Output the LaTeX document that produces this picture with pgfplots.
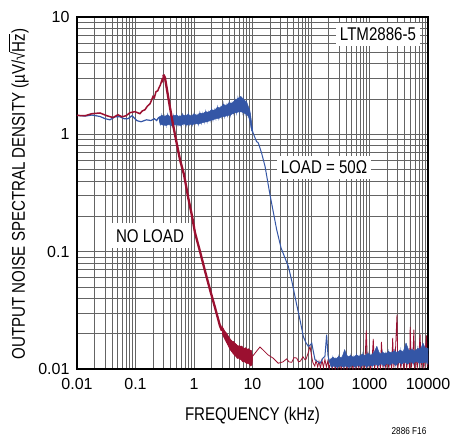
\documentclass[border=0pt]{standalone}
\usepackage{pgfplots}
\pgfplotsset{compat=1.18}
\usepackage{fontspec}
\setmainfont{Liberation Sans}[FakeStretch=0.82]
\newfontfamily\tickfont{Liberation Sans}
\definecolor{nlred}{RGB}{155,16,48}
\definecolor{ldblue}{RGB}{52,86,166}
\definecolor{gridc}{RGB}{100,100,100}
\newcommand\lblfont{\fontsize{18.4bp}{20bp}\selectfont}
\newcommand\ovl[1]{\setbox0\hbox{#1}\rlap{\rule[0.80em]{\wd0}{0.07em}}\box0}
\begin{document}
\begin{tikzpicture}
\useasboundingbox (-77bp,-66bp) rectangle (378bp,369bp);
\begin{axis}[
 at={(0,0)}, anchor=south west, scale only axis, width=351bp, height=352bp,
 xmode=log, ymode=log, xmin=0.01, xmax=10000, ymin=0.01, ymax=10,
 xtick={0.01,0.1,1,10,100,1000,10000},
 xticklabels={0.01,0.1,1,10,100,1000,10000},
 ytick={0.01,0.1,1,10},
 yticklabels={0.01,0.1,1,10},
 minor xtick={0.02,0.03,0.04,0.05,0.06,0.07,0.08,0.09,0.2,0.3,0.4,0.5,0.6,0.7,0.8,0.9,2,3,4,5,6,7,8,9,20,30,40,50,60,70,80,90,200,300,400,500,600,700,800,900,2000,3000,4000,5000,6000,7000,8000,9000},
 minor ytick={0.02,0.03,0.04,0.05,0.06,0.07,0.08,0.09,0.2,0.3,0.4,0.5,0.6,0.7,0.8,0.9,2,3,4,5,6,7,8,9},
 grid=both,
 major grid style={gridc, line width=0.8bp},
 minor grid style={gridc, line width=0.8bp},
 major tick length=0pt, minor tick length=0pt,
 axis line style={black, line width=1.2bp},
 tick label style={font=\tickfont\fontsize{16bp}{18bp}\selectfont},
 /pgf/number format/assume math mode=true,
 xticklabel style={yshift=-6bp},
 yticklabel style={xshift=-4bp},
]
% red high-frequency noise (under blue)
\addplot[nlred, line width=0.8bp] coordinates {
(10.0,0.0128)(11.5,0.0140)(13.4,0.0154)(15.7,0.0143)(18.4,0.0132)(22.4,0.0124)(27.6,0.0112)(33.2,0.0115)(38.4,0.0122)(42.1,0.0115)(46.8,0.0114)(51.2,0.0125)(57.0,0.0124)(61.1,0.0115)(66,0.0117)(73,0.0127)(78.9,0.0120)(82.3,0.0121)(90.6,0.0140)(96.2,0.0156)(102,0.0130)(108,0.0113)
(116,0.0106)(122,0.0118)(130,0.0104)(137,0.0116)(145,0.0102)(154,0.0119)(163,0.0103)(173,0.0121)(183,0.0104)(194,0.0117)(205,0.0101)(218,0.0118)(231,0.0102)(245,0.0120)(259,0.0100)(275,0.0117)(291,0.0102)(309,0.0121)(327,0.0100)(347,0.0118)(367,0.0101)(389,0.0122)(413,0.0100)(437,0.0119)(464,0.0102)(491,0.0123)(521,0.0100)(552,0.0120)(585,0.0101)(620,0.0124)(657,0.0102)(697,0.0121)(738,0.0100)(783,0.0125)(830,0.0101)(880,0.0213)(933,0.0102)(988,0.0124)(1048,0.0100)(1110,0.0122)(1160,0.0181)(1220,0.0101)(1290,0.0125)(1370,0.0102)(1450,0.0123)(1540,0.0100)(1600,0.0170)(1700,0.0102)(1800,0.0126)(1900,0.0101)(2020,0.0124)(2140,0.0102)(2270,0.0127)(2400,0.0100)(2490,0.0184)(2600,0.0103)(2750,0.0126)(2950,0.0291)(3050,0.0101)(3240,0.0128)(3430,0.0102)(3640,0.0127)(3860,0.0100)(4090,0.0130)(4330,0.0102)(4590,0.0128)(4850,0.0101)(4960,0.0228)(5200,0.0103)(5500,0.0129)(5740,0.0216)(5900,0.0101)(6200,0.0131)(6550,0.0102)(6950,0.0130)(7340,0.0197)(7600,0.0102)(8000,0.0132)(8500,0.0101)(8900,0.0131)(9400,0.0193)(9700,0.0104)(10000,0.0135)
};
% blue low frequency
\addplot[ldblue, line width=1.2bp] coordinates {
(0.01,1.45)(0.0137,1.43)(0.018,1.46)(0.0247,1.42)(0.0301,1.36)(0.0366,1.33)(0.0447,1.41)(0.0543,1.41)(0.0636,1.36)(0.0745,1.36)(0.0871,1.44)(0.105,1.31)(0.124,1.28)(0.155,1.33)(0.184,1.31)(0.21,1.36)(0.23,1.31)(0.25,1.40)
};
% blue noisy band 0.25-10 kHz (envelope)
\addplot[ldblue, fill=ldblue, line width=0.5bp] coordinates {
(0.25,1.40)(0.281,1.45)(0.316,1.42)(0.355,1.47)(0.398,1.40)(0.447,1.44)(0.502,1.46)(0.564,1.41)(0.633,1.47)(0.710,1.44)(0.797,1.48)(0.894,1.43)(1.0,1.49)(1.122,1.45)(1.259,1.52)(1.413,1.50)(1.585,1.56)(1.778,1.54)(1.995,1.62)(2.239,1.60)(2.512,1.70)(2.818,1.68)(3.162,1.80)(3.548,1.76)(3.981,1.86)(4.467,1.84)(5.012,1.95)(5.623,2.02)(6.31,2.10)(7.079,1.98)(7.943,1.88)(8.913,1.62)(9.3,1.45)(10.2,1.03)
(9.6,1.08)(9.0,1.30)(8.414,1.44)(7.499,1.50)(6.683,1.55)(5.957,1.56)(5.309,1.53)(4.732,1.52)(4.217,1.46)(3.758,1.45)(3.35,1.42)(2.985,1.41)(2.661,1.37)(2.371,1.36)(2.113,1.33)(1.884,1.31)(1.679,1.28)(1.496,1.27)(1.334,1.25)(1.189,1.22)(1.06,1.24)(0.947,1.21)(0.844,1.22)(0.752,1.20)(0.670,1.23)(0.597,1.19)(0.532,1.20)(0.474,1.21)(0.422,1.18)(0.376,1.22)(0.335,1.19)(0.298,1.20)(0.265,1.22)
} -- cycle;
% blue noisy band 0.25-10 kHz (texture)
\addplot[ldblue, line width=0.7bp] coordinates {
(0.25,1.40)(0.265,1.22)(0.281,1.45)(0.298,1.20)(0.316,1.42)(0.335,1.19)(0.355,1.47)(0.376,1.22)(0.398,1.40)(0.422,1.18)(0.447,1.44)(0.474,1.21)(0.502,1.46)(0.532,1.20)(0.564,1.41)(0.597,1.19)(0.633,1.47)(0.670,1.23)(0.710,1.44)(0.752,1.20)(0.797,1.48)(0.844,1.22)(0.894,1.43)(0.947,1.21)(1.0,1.49)(1.06,1.24)(1.122,1.45)(1.189,1.22)(1.259,1.52)(1.334,1.25)(1.413,1.50)(1.496,1.27)(1.585,1.56)(1.679,1.28)(1.778,1.54)(1.884,1.31)(1.995,1.62)(2.113,1.33)(2.239,1.60)(2.371,1.36)(2.512,1.70)(2.661,1.37)(2.818,1.68)(2.985,1.41)(3.162,1.80)(3.35,1.42)(3.548,1.76)(3.758,1.45)(3.981,1.86)(4.217,1.46)(4.467,1.84)(4.732,1.52)(5.012,1.95)(5.309,1.53)(5.623,2.02)(5.957,1.56)(6.31,2.10)(6.683,1.55)(7.079,1.98)(7.499,1.50)(7.943,1.88)(8.414,1.44)(8.913,1.62)(9.44,1.25)(10.2,1.03)
};
% blue roll-off
\addplot[ldblue, line width=1.0bp] coordinates {
(10.2,1.03)(11.7,0.870)(12.6,0.843)(14.3,0.693)(16.4,0.532)(19.9,0.306)(25.9,0.154)(30.7,0.108)(36.0,0.0881)(41.0,0.0748)(47.3,0.0553)(57.0,0.0352)(64.9,0.0262)(73.9,0.0189)(82.2,0.0167)(90.0,0.0156)(96.2,0.0160)(103,0.0166)(110,0.0140)(117,0.0120)(132,0.0115)(143,0.0112)(160,0.0124)(173,0.0128)(185,0.0196)(195,0.0131)(206,0.0115)
};
% blue HF band (envelope)
\addplot[ldblue, fill=ldblue, line width=0.4bp] coordinates {
(206,0.0115)(210,0.0120)(236,0.0126)(265,0.0122)(298,0.0128)(335,0.0124)(376,0.0146)(422,0.0127)(474,0.0130)(532,0.0126)(597,0.0132)(670,0.0128)(752,0.0134)(844,0.0130)(947,0.0136)(1060,0.0131)(1189,0.0138)(1334,0.0156)(1496,0.0134)(1679,0.0139)(1884,0.0135)(2113,0.0141)(2371,0.0137)(2661,0.0143)(2985,0.0138)(3350,0.0145)(3758,0.0140)(4217,0.0166)(4732,0.0143)(5309,0.0147)(5957,0.0142)(6683,0.0150)(7499,0.0148)(8200,0.0166)(8913,0.0152)(10000,0.0150)
(10000,0.0110)(9441,0.0115)(8414,0.0113)(7943,0.0113)(7079,0.0112)(6310,0.0117)(5623,0.0111)(5012,0.0116)(4467,0.0110)(3981,0.0115)(3548,0.0110)(3162,0.0114)(2818,0.0107)(2512,0.0113)(2239,0.0108)(1995,0.0112)(1778,0.0106)(1585,0.0111)(1413,0.0107)(1259,0.0110)(1122,0.0106)(1000,0.0108)(894,0.0104)(797,0.0109)(710,0.0105)(633,0.0107)(564,0.0104)(502,0.0108)(447,0.0103)(398,0.0106)(355,0.0104)(316,0.0107)(281,0.0103)(250,0.0106)(222,0.0104)
} -- cycle;
% blue HF band (texture)
\addplot[ldblue, line width=0.6bp] coordinates {
(206,0.0115)(210,0.0120)(222,0.0104)(236,0.0126)(250,0.0106)(265,0.0122)(281,0.0103)(298,0.0128)(316,0.0107)(335,0.0124)(355,0.0104)(376,0.0146)(398,0.0106)(422,0.0127)(447,0.0103)(474,0.0130)(502,0.0108)(532,0.0126)(564,0.0104)(597,0.0132)(633,0.0107)(670,0.0128)(710,0.0105)(752,0.0134)(797,0.0109)(844,0.0130)(894,0.0104)(947,0.0136)(1000,0.0108)(1060,0.0131)(1122,0.0106)(1189,0.0138)(1259,0.0110)(1334,0.0156)(1413,0.0107)(1496,0.0134)(1585,0.0111)(1679,0.0139)(1778,0.0106)(1884,0.0135)(1995,0.0112)(2113,0.0141)(2239,0.0108)(2371,0.0137)(2512,0.0113)(2661,0.0143)(2818,0.0107)(2985,0.0138)(3162,0.0114)(3350,0.0145)(3548,0.0110)(3758,0.0140)(3981,0.0115)(4217,0.0166)(4467,0.0110)(4732,0.0143)(5012,0.0116)(5309,0.0147)(5623,0.0111)(5957,0.0142)(6310,0.0117)(6683,0.0150)(7079,0.0112)(7499,0.0148)(7943,0.0113)(8200,0.0166)(8414,0.0113)(8913,0.0152)(9441,0.0115)(10000,0.0150)
};
% red low frequency and peak
\addplot[nlred, line width=1.5bp] coordinates {
(0.01,1.45)(0.0137,1.44)(0.018,1.50)(0.0247,1.52)(0.0326,1.44)(0.0412,1.39)(0.0502,1.47)(0.0588,1.41)(0.0688,1.44)(0.0805,1.53)(0.098,1.56)(0.119,1.50)(0.13,1.58)(0.145,1.62)(0.16,1.74)(0.177,1.82)(0.19,1.98)(0.199,2.10)(0.21,2.05)(0.224,2.31)(0.24,2.35)(0.252,2.49)(0.265,2.62)(0.284,2.92)(0.292,2.85)(0.301,3.22)
};
% red fall
\addplot[nlred, line width=2.3bp] coordinates {
(0.301,3.22)(0.319,3.04)(0.345,2.40)(0.389,1.69)(0.438,1.21)(0.512,0.815)(0.576,0.607)(0.675,0.453)(0.80,0.285)(0.924,0.202)(1.04,0.145)(1.27,0.0998)(1.54,0.0687)(1.88,0.0473)(2.29,0.0333)(2.78,0.0233)(3.0,0.0212)
};
% red noisy band 3-10 kHz (envelope)
\addplot[nlred, fill=nlred, line width=0.5bp] coordinates {
(3.0,0.0232)(3.16,0.0222)(3.33,0.0212)(3.51,0.0205)(3.7,0.0197)(3.9,0.0190)(4.1,0.0182)(4.32,0.0176)(4.55,0.0172)(4.8,0.0172)(5.06,0.0165)(5.33,0.0162)(5.62,0.0156)(5.92,0.0158)(6.24,0.0156)(6.58,0.0157)(6.94,0.0151)(7.31,0.0150)(7.7,0.0152)(8.12,0.0147)(8.56,0.0149)(9.02,0.0145)(9.51,0.0144)(10.0,0.0128)
(9.76,0.0108)(9.26,0.0106)(8.79,0.0110)(8.34,0.0112)(7.91,0.0111)(7.5,0.0114)(7.12,0.0116)(6.76,0.0115)(6.41,0.0120)(6.08,0.0121)(5.77,0.0124)(5.48,0.0123)(5.2,0.0128)(4.93,0.0131)(4.67,0.0135)(4.43,0.0140)(4.2,0.0145)(4.0,0.0152)(3.8,0.0160)(3.6,0.0168)(3.42,0.0176)(3.25,0.0186)(3.08,0.0196)
} -- cycle;
% red noisy band 3-10 kHz (texture)
\addplot[nlred, line width=0.7bp] coordinates {
(3.0,0.0232)(3.08,0.0196)(3.16,0.0222)(3.25,0.0186)(3.33,0.0212)(3.42,0.0176)(3.51,0.0205)(3.6,0.0168)(3.7,0.0197)(3.8,0.0160)(3.9,0.0190)(4.0,0.0152)(4.1,0.0182)(4.2,0.0145)(4.32,0.0176)(4.43,0.0140)(4.55,0.0172)(4.67,0.0135)(4.8,0.0168)(4.93,0.0131)(5.06,0.0165)(5.2,0.0128)(5.33,0.0162)(5.48,0.0126)(5.62,0.0160)(5.77,0.0124)(5.92,0.0158)(6.08,0.0121)(6.24,0.0156)(6.41,0.0120)(6.58,0.0153)(6.76,0.0118)(6.94,0.0151)(7.12,0.0116)(7.31,0.0150)(7.5,0.0114)(7.7,0.0148)(7.91,0.0113)(8.12,0.0147)(8.34,0.0112)(8.56,0.0146)(8.79,0.0110)(9.02,0.0145)(9.26,0.0109)(9.51,0.0144)(9.76,0.0108)(10.0,0.0128)
};
\end{axis}
\node[fill=white, inner xsep=4bp, inner ysep=5bp, anchor=base, font=\lblfont] at (301bp,328.3bp) {LTM2886-5};
\node[fill=white, inner xsep=4bp, inner ysep=5bp, anchor=base, font=\lblfont] at (247bp,195bp) {LOAD = 50Ω};
\node[fill=white, inner xsep=6bp, inner ysep=6bp, anchor=base, font=\lblfont] at (73bp,126.7bp) {NO LOAD};
\node[anchor=base, font=\lblfont] at (175.5bp,-51bp) {FREQUENCY (kHz)};
\node[anchor=base, rotate=90, font=\lblfont] at (-52bp,175bp) {OUTPUT NOISE SPECTRAL DENSITY (µV/√\ovl{Hz})};
\node[anchor=center, font=\fontsize{10bp}{11bp}\selectfont] at (332bp,-62bp) {2886 F16};
\end{tikzpicture}
\end{document}
